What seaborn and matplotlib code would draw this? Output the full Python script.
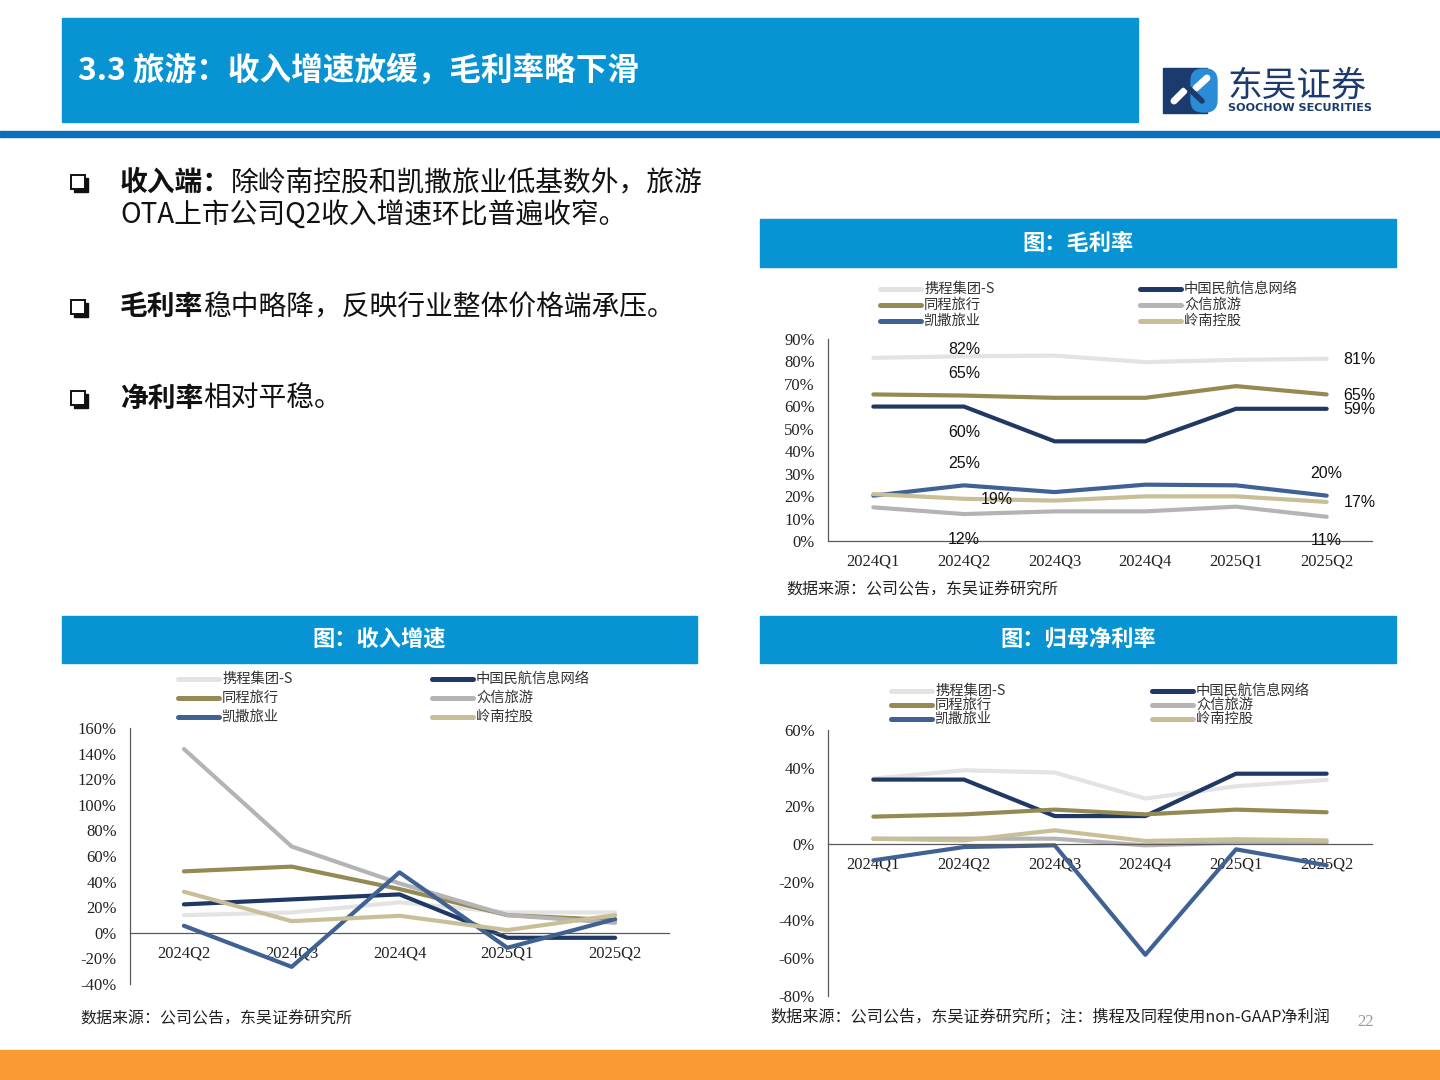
import matplotlib
matplotlib.use("Agg")
import matplotlib.pyplot as plt
from matplotlib.patches import Rectangle, FancyBboxPatch
import seaborn as sns
import numpy as np
import pandas as pd

# companies / colours (legend order, row-major)
companies = ["携程集团-S", "中国民航信息网络", "同程旅行", "众信旅游", "凯撒旅业", "岭南控股"]
colors = ["#E3E3E3", "#1F3864", "#948A54", "#B4B4B4", "#3F6194", "#C8BF98"]

# gross margin (%)
gm_quarters = ["2024Q1", "2024Q2", "2024Q3", "2024Q4", "2025Q1", "2025Q2"]
gm_ctrip = [81.6, 82.3, 82.6, 79.7, 80.7, 81.2]
gm_travelsky = [59.9, 59.9, 44.4, 44.4, 58.9, 58.9]
gm_tongcheng = [65.3, 64.8, 63.8, 63.8, 69.0, 65.3]
gm_utour = [15.0, 12.0, 13.2, 13.2, 15.3, 10.8]
gm_caissa = [20.2, 24.8, 21.8, 25.1, 24.8, 20.2]
gm_lingnan = [20.9, 18.8, 18.0, 19.9, 19.9, 17.4]

# revenue growth (%)
rev_quarters = ["2024Q2", "2024Q3", "2024Q4", "2025Q1", "2025Q2"]
rev_ctrip = [13.8, 15.9, 23.8, 15.9, 15.9]
rev_travelsky = [22.2, 26.1, 30.0, -3.9, -3.9]
rev_tongcheng = [48.0, 51.7, 34.2, 13.8, 9.9]
rev_utour = [143.6, 67.4, 38.6, 13.8, 7.8]
rev_caissa = [5.5, -26.6, 47.2, -11.7, 10.7]
rev_lingnan = [32.1, 9.1, 13.3, 2.1, 13.8]

# net margin attributable to parent (%)
nm_quarters = ["2024Q1", "2024Q2", "2024Q3", "2024Q4", "2025Q1", "2025Q2"]
nm_ctrip = [34.4, 38.8, 37.6, 23.9, 30.4, 33.7]
nm_travelsky = [33.9, 33.9, 14.7, 14.7, 37.0, 37.0]
nm_tongcheng = [14.4, 15.6, 18.1, 15.6, 18.1, 16.7]
nm_utour = [2.8, 2.8, 2.8, -0.7, 0.7, 1.0]
nm_caissa = [-8.6, -1.6, -0.7, -58.3, -2.8, -11.2]
nm_lingnan = [2.8, 1.9, 7.2, 1.6, 2.5, 1.9]

# gross-margin data labels: (company index, quarter index, dx px, dy px)
gm_labels = [(0, 1, 0, 7), (2, 1, 0, 22), (1, 1, 0, -26), (4, 1, 0, 22),
             (5, 1, 33, -1), (3, 1, 0, -25),
             (0, 5, 33, -1), (2, 5, 33, -1), (1, 5, 33, -1), (4, 5, 0, 22),
             (5, 5, 33, -1), (3, 5, 0, -24)]

BLUE = "#0894D2"
sns.set_theme(style="white")
plt.rcParams["font.family"] = ["Noto Sans CJK SC", "DejaVu Sans"]

W, H = 1440, 1080
fig = plt.figure(figsize=(W / 100, H / 100), dpi=100)
bg = fig.add_axes([0, 0, 1, 1])
bg.set_xlim(0, W)
bg.set_ylim(H, 0)
bg.axis("off")
renderer = fig.canvas.get_renderer()
palette = dict(zip(companies, colors))


def px_axes(x0, y0, x1, y1):
    return fig.add_axes([x0 / W, 1 - y1 / H, (x1 - x0) / W, (y1 - y0) / H])


def to_long(series):
    rows = []
    for name, vals in zip(companies, series):
        for i, v in enumerate(vals):
            rows.append({"idx": i, "company": name, "value": v})
    return pd.DataFrame(rows)


def draw_chart(box, quarters, series, ylim, ystep):
    ax = px_axes(*box)
    df = to_long(series)
    sns.lineplot(data=df, x="idx", y="value", hue="company", hue_order=companies,
                 palette=palette, linewidth=3.0, legend=False, ax=ax, sort=False,
                 estimator=None, solid_capstyle="round", solid_joinstyle="round")
    n = len(quarters)
    ax.set_xlim(-0.5, n - 0.5)
    ax.set_ylim(*ylim)
    ax.set_xticks(range(n))
    ax.set_xticklabels(quarters)
    ax.set_xticks(np.arange(-0.5, n), minor=True)
    yt = np.arange(ylim[0], ylim[1] + 1, ystep)
    ax.set_yticks(yt)
    ax.set_yticklabels([f"{v:.0f}%" for v in yt])
    ax.set_xlabel("")
    ax.set_ylabel("")
    ax.spines["bottom"].set_position(("data", 0))
    ax.spines["top"].set_visible(False)
    ax.spines["right"].set_visible(False)
    for s in ("left", "bottom"):
        ax.spines[s].set_color("#595959")
        ax.spines[s].set_linewidth(0.9)
    ax.tick_params(axis="x", which="major", length=0, pad=9, labelsize=12, colors="#222222")
    ax.tick_params(axis="x", which="minor", length=4, direction="in", width=0.9, color="#595959")
    ax.tick_params(axis="y", length=3.5, direction="out", width=0.9, pad=6, labelsize=12,
                   color="#595959", labelcolor="#222222")
    for lab in ax.get_xticklabels() + ax.get_yticklabels():
        lab.set_fontfamily("Liberation Serif")
    ax.patch.set_alpha(0)
    return ax


def draw_legend(x_cols, y_rows, line_len=41, fs=10.3):
    for k, (name, col) in enumerate(zip(companies, colors)):
        r, c = divmod(k, 2)
        x0, y = x_cols[c], y_rows[r]
        bg.plot([x0, x0 + line_len], [y, y], color=col, lw=3.6, solid_capstyle="round")
        bg.text(x0 + line_len + 3, y, name, va="center", ha="left", fontsize=fs, color="#333333")


def rich_line(x, y, parts, fs=20):
    for txt, bold in parts:
        t = bg.text(x, y, txt, fontsize=fs, fontweight="bold" if bold else "normal",
                    va="center", ha="left", color="#111111")
        x += t.get_window_extent(renderer=renderer).width


def bullet(cx, cy, s=14):
    bg.add_patch(Rectangle((cx - s / 2 + 2.5, cy - s / 2 + 2.5), s, s, color="#111111", zorder=2))
    bg.add_patch(Rectangle((cx - s / 2, cy - s / 2), s, s, facecolor="white",
                           edgecolor="#111111", lw=1.4, zorder=3))


def header(x0, y0, x1, y1, text):
    bg.add_patch(Rectangle((x0, y0), x1 - x0, y1 - y0, color=BLUE))
    bg.text((x0 + x1) / 2, (y0 + y1) / 2, text, color="white", fontsize=16,
            fontweight="bold", ha="center", va="center")


# title bar and separators
bg.add_patch(Rectangle((62, 18), 1076, 104, color=BLUE))
bg.text(78, 71, "3.3 旅游：收入增速放缓，毛利率略下滑", color="white", fontsize=22.8,
        fontweight="bold", ha="left", va="center")
bg.add_patch(Rectangle((0, 131), W, 6, color="#0D6EBE"))
bg.add_patch(Rectangle((0, 1050), W, 30, color="#F99B32"))

# logo
bg.add_patch(Rectangle((1163, 68), 44, 45, color="#1B3A6E"))
bg.add_patch(FancyBboxPatch((1192, 70), 24, 41, boxstyle="round,pad=1,rounding_size=12",
                            color="#2A8CD6"))
bg.plot([1174, 1184], [101, 91], color="white", lw=5, solid_capstyle="round")
bg.plot([1196, 1207], [88, 78], color="white", lw=5, solid_capstyle="round")
bg.plot([1180, 1202], [80, 101], color="#1B3A6E", lw=4, solid_capstyle="round")
bg.text(1228, 86, "东吴证券", color="#1B3A6E", fontsize=25, ha="left", va="center")
bg.text(1228, 108, "SOOCHOW SECURITIES", color="#1B3A6E", fontsize=8.1, fontweight="bold",
        ha="left", va="center", family=["DejaVu Sans"])

# bullets
bullet(78, 182)
rich_line(120, 183, [("收入端：", True), ("除岭南控股和凯撒旅业低基数外，旅游", False)])
rich_line(120, 215, [("OTA上市公司Q2收入增速环比普遍收窄。", False)])
bullet(78, 307)
rich_line(120, 307, [("毛利率", True), ("稳中略降，反映行业整体价格端承压。", False)])
bullet(78, 398)
rich_line(120, 399, [("净利率", True), ("相对平稳。", False)])

# gross margin chart
header(760, 219, 1396, 267, "图：毛利率")
draw_legend([880, 1140], [289, 305, 321])
gm_series = [gm_ctrip, gm_travelsky, gm_tongcheng, gm_utour, gm_caissa, gm_lingnan]
ax1 = draw_chart((828, 339, 1372, 541), gm_quarters, gm_series, (0, 90), 10)
for ci, qi, dx, dy in gm_labels:
    v = gm_series[ci][qi]
    ax1.annotate(f"{v:.0f}%", xy=(qi, v), xytext=(dx, dy), textcoords="offset pixels",
                 ha="center", va="center", fontsize=11.5, color="#111111",
                 family=["Liberation Sans", "DejaVu Sans"], annotation_clip=False)
bg.text(786, 590, "数据来源：公司公告，东吴证券研究所", fontsize=11.5, ha="left", va="center",
        color="#222222")

# revenue growth chart
header(62, 616, 697, 663, "图：收入增速")
draw_legend([178, 432], [679, 698, 717])
rev_series = [rev_ctrip, rev_travelsky, rev_tongcheng, rev_utour, rev_caissa, rev_lingnan]
draw_chart((130, 728, 669, 984), rev_quarters, rev_series, (-40, 160), 20)
bg.text(80, 1019, "数据来源：公司公告，东吴证券研究所", fontsize=11.5, ha="left", va="center",
        color="#222222")

# net margin chart
header(760, 616, 1396, 663, "图：归母净利率")
draw_legend([891, 1152], [691, 705, 719])
nm_series = [nm_ctrip, nm_travelsky, nm_tongcheng, nm_utour, nm_caissa, nm_lingnan]
draw_chart((828, 730, 1372, 996), nm_quarters, nm_series, (-80, 60), 20)
bg.text(770, 1017, "数据来源：公司公告，东吴证券研究所；注：携程及同程使用non-GAAP净利润",
        fontsize=11.6, ha="left", va="center", color="#222222")
bg.text(1366, 1022, "22", fontsize=12, ha="center", va="center", color="#999999",
        family="Liberation Serif")

fig.savefig("out.png", dpi=100)
